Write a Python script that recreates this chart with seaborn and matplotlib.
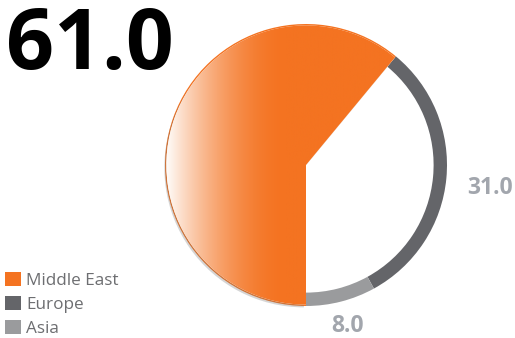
import numpy as np
import matplotlib
matplotlib.use("Agg")
import matplotlib.pyplot as plt
import seaborn as sns
from matplotlib.patches import Patch
from matplotlib.colors import to_rgb
import matplotlib.patheffects as pe

regions = ["Middle East", "Europe", "Asia"]
values = [61.0, 31.0, 8.0]
colors = ["#f47321", "#646569", "#9a9b9d"]
value_labels = ["61.0", "31.0", "8.0"]

sns.set_theme(style="white")
plt.rcParams["font.family"] = ["Open Sans", "DejaVu Sans"]

W, H = 515, 338
fig = plt.figure(figsize=(W / 100, H / 100), dpi=100)
cx, cy, r = 306, 165, 141
ax = fig.add_axes([(cx - r) / W, (H - cy - r) / H, 2 * r / W, 2 * r / H])

# outer ring for all segments
ring, _ = ax.pie(values, colors=colors, startangle=-90, counterclock=False,
                 radius=1.0, wedgeprops=dict(width=0.095, linewidth=0))

# full wedge for the lead segment
lead, _ = ax.pie([values[0], sum(values) - values[0]], colors=["#ffffff", "none"],
                 startangle=-90, counterclock=False, radius=0.99,
                 wedgeprops=dict(linewidth=0))
lead[1].set_visible(False)
lead[0].set_path_effects([pe.SimplePatchShadow(offset=(-1.5, -2), shadow_rgbFace="#777777", alpha=0.3),
                          pe.Normal()])

# horizontal gradient over the lead wedge
o = np.array(to_rgb(colors[0]))
w = np.array([1.0, 1.0, 1.0])
xs = np.linspace(-1, 1, 600)
s = np.clip((xs + 1.0) / 0.85, 0, 1)
t = 1 - (1 - s) ** 1.8
grad = (w[None, :] * (1 - t[:, None]) + o[None, :] * t[:, None])[None, :, :]
im = ax.imshow(grad, extent=[-1, 1, -1, 1], origin="lower", aspect="auto", zorder=3)
im.set_clip_path(lead[0])

ax.set_xlim(-1, 1)
ax.set_ylim(-1, 1)
ax.set_aspect("equal")
ax.axis("off")

# value labels outside the ring
total = sum(values)
start = -90.0
dists = [None, 1.31, 1.18]
offsets = [0, -6, 0]
for v, lab, d, dy in zip(values, value_labels, dists, offsets):
    mid = start - 360 * v / total / 2
    start -= 360 * v / total
    if d is None:
        continue
    ax.annotate(lab, (d * np.cos(np.radians(mid)), d * np.sin(np.radians(mid))),
                xytext=(0, dy * 0.72), textcoords="offset points",
                ha="center", va="center", fontsize=16.5, fontweight="bold",
                color="#a2a6ad", annotation_clip=False)

fig.text(0.012, 0.985, value_labels[0], ha="left", va="top", fontsize=60.5,
         fontweight="bold", color="#000000")

handles = [Patch(facecolor=c, edgecolor="none") for c in colors]
leg = fig.legend(handles, regions, loc="lower left", bbox_to_anchor=(0.0, -0.012),
                 frameon=False, fontsize=12.3, handlelength=0.9, handleheight=0.9,
                 handletextpad=0.35, labelspacing=0.42, borderpad=0.2, borderaxespad=0.1)
for t_ in leg.get_texts():
    t_.set_color("#6d6e71")

fig.savefig("out.png", dpi=100)
